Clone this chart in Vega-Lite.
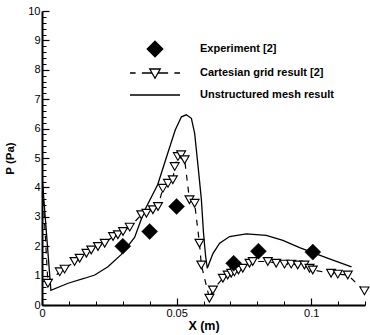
{
  "$schema": "https://vega.github.io/schema/vega-lite/v6.json",
  "width": 323,
  "height": 294,
  "autosize": "none",
  "padding": {"left": 42, "top": 11, "right": 5, "bottom": 30},
  "background": "white",
  "config": {
    "view": {"stroke": null},
    "font": "Liberation Sans",
    "axis": {
      "grid": false,
      "domainColor": "black",
      "tickColor": "black",
      "labelColor": "black",
      "titleColor": "black",
      "labelFont": "Liberation Sans",
      "titleFont": "Liberation Sans",
      "labelFontSize": 11,
      "titleFontSize": 11.5,
      "titleFontWeight": "bold"
    },
    "legend": {
      "orient": "none",
      "legendX": 99.5,
      "legendY": 24.5,
      "padding": 0,
      "title": null,
      "labelFont": "Liberation Sans",
      "labelFontSize": 11,
      "labelFontWeight": "bold",
      "labelColor": "black",
      "labelOffset": 31.5,
      "symbolSize": 625,
      "symbolStrokeColor": "black",
      "symbolStrokeWidth": 1.3,
      "rowPadding": -2.5,
      "labelLimit": 300
    }
  },
  "datasets": {
    "main": [
      {"series": "Unstructured mesh result", "x": 0, "p": 4.4},
      {"series": "Unstructured mesh result", "x": 0.0033, "p": 0.5},
      {"series": "Unstructured mesh result", "x": 0.0097, "p": 0.74},
      {"series": "Unstructured mesh result", "x": 0.0159, "p": 0.91},
      {"series": "Unstructured mesh result", "x": 0.0196, "p": 1.02},
      {"series": "Unstructured mesh result", "x": 0.0245, "p": 1.3},
      {"series": "Unstructured mesh result", "x": 0.0295, "p": 1.72},
      {"series": "Unstructured mesh result", "x": 0.0344, "p": 2.3},
      {"series": "Unstructured mesh result", "x": 0.038, "p": 3.2},
      {"series": "Unstructured mesh result", "x": 0.043, "p": 4.1},
      {"series": "Unstructured mesh result", "x": 0.0465, "p": 5.1},
      {"series": "Unstructured mesh result", "x": 0.0495, "p": 5.95},
      {"series": "Unstructured mesh result", "x": 0.0518, "p": 6.4},
      {"series": "Unstructured mesh result", "x": 0.0536, "p": 6.47},
      {"series": "Unstructured mesh result", "x": 0.0555, "p": 6.35},
      {"series": "Unstructured mesh result", "x": 0.0567, "p": 5.85},
      {"series": "Unstructured mesh result", "x": 0.058, "p": 4.7},
      {"series": "Unstructured mesh result", "x": 0.0592, "p": 3.6},
      {"series": "Unstructured mesh result", "x": 0.06, "p": 2.45},
      {"series": "Unstructured mesh result", "x": 0.0608, "p": 1.65},
      {"series": "Unstructured mesh result", "x": 0.0614, "p": 1.25},
      {"series": "Unstructured mesh result", "x": 0.0635, "p": 1.75},
      {"series": "Unstructured mesh result", "x": 0.066, "p": 2.1},
      {"series": "Unstructured mesh result", "x": 0.0697, "p": 2.33},
      {"series": "Unstructured mesh result", "x": 0.0759, "p": 2.42},
      {"series": "Unstructured mesh result", "x": 0.0833, "p": 2.37},
      {"series": "Unstructured mesh result", "x": 0.0895, "p": 2.2},
      {"series": "Unstructured mesh result", "x": 0.0957, "p": 1.95},
      {"series": "Unstructured mesh result", "x": 0.1006, "p": 1.78},
      {"series": "Unstructured mesh result", "x": 0.1068, "p": 1.57},
      {"series": "Unstructured mesh result", "x": 0.115, "p": 1.3},
      {"series": "Cartesian grid result [2]", "x": 0, "p": 4.4},
      {"series": "Cartesian grid result [2]", "x": 0.0022, "p": 0.74},
      {"series": "Cartesian grid result [2]", "x": 0.0066, "p": 1.13},
      {"series": "Cartesian grid result [2]", "x": 0.0084, "p": 1.22},
      {"series": "Cartesian grid result [2]", "x": 0.0121, "p": 1.48},
      {"series": "Cartesian grid result [2]", "x": 0.014, "p": 1.59},
      {"series": "Cartesian grid result [2]", "x": 0.0165, "p": 1.76},
      {"series": "Cartesian grid result [2]", "x": 0.0183, "p": 1.87},
      {"series": "Cartesian grid result [2]", "x": 0.0208, "p": 1.99},
      {"series": "Cartesian grid result [2]", "x": 0.0233, "p": 2.1},
      {"series": "Cartesian grid result [2]", "x": 0.0264, "p": 2.33},
      {"series": "Cartesian grid result [2]", "x": 0.0282, "p": 2.39},
      {"series": "Cartesian grid result [2]", "x": 0.0301, "p": 2.5},
      {"series": "Cartesian grid result [2]", "x": 0.0326, "p": 2.65},
      {"series": "Cartesian grid result [2]", "x": 0.0369, "p": 3.07},
      {"series": "Cartesian grid result [2]", "x": 0.0388, "p": 3.12},
      {"series": "Cartesian grid result [2]", "x": 0.0412, "p": 3.24},
      {"series": "Cartesian grid result [2]", "x": 0.0431, "p": 3.35},
      {"series": "Cartesian grid result [2]", "x": 0.0449, "p": 3.97},
      {"series": "Cartesian grid result [2]", "x": 0.0468, "p": 4.14},
      {"series": "Cartesian grid result [2]", "x": 0.0486, "p": 4.26},
      {"series": "Cartesian grid result [2]", "x": 0.0493, "p": 4.71},
      {"series": "Cartesian grid result [2]", "x": 0.0505, "p": 5.05},
      {"series": "Cartesian grid result [2]", "x": 0.0517, "p": 5.11},
      {"series": "Cartesian grid result [2]", "x": 0.053, "p": 4.94},
      {"series": "Cartesian grid result [2]", "x": 0.0548, "p": 3.58},
      {"series": "Cartesian grid result [2]", "x": 0.0567, "p": 3.46},
      {"series": "Cartesian grid result [2]", "x": 0.0585, "p": 2.1},
      {"series": "Cartesian grid result [2]", "x": 0.0592, "p": 1.36},
      {"series": "Cartesian grid result [2]", "x": 0.0622, "p": 0.23},
      {"series": "Cartesian grid result [2]", "x": 0.0635, "p": 0.51},
      {"series": "Cartesian grid result [2]", "x": 0.0672, "p": 0.91},
      {"series": "Cartesian grid result [2]", "x": 0.069, "p": 1.02},
      {"series": "Cartesian grid result [2]", "x": 0.0703, "p": 1.08},
      {"series": "Cartesian grid result [2]", "x": 0.0715, "p": 1.13},
      {"series": "Cartesian grid result [2]", "x": 0.073, "p": 1.19},
      {"series": "Cartesian grid result [2]", "x": 0.0746, "p": 1.25},
      {"series": "Cartesian grid result [2]", "x": 0.0771, "p": 1.42},
      {"series": "Cartesian grid result [2]", "x": 0.0783, "p": 1.48},
      {"series": "Cartesian grid result [2]", "x": 0.0839, "p": 1.48},
      {"series": "Cartesian grid result [2]", "x": 0.087, "p": 1.42},
      {"series": "Cartesian grid result [2]", "x": 0.0901, "p": 1.39},
      {"series": "Cartesian grid result [2]", "x": 0.0926, "p": 1.39},
      {"series": "Cartesian grid result [2]", "x": 0.095, "p": 1.36},
      {"series": "Cartesian grid result [2]", "x": 0.0975, "p": 1.36},
      {"series": "Cartesian grid result [2]", "x": 0.0994, "p": 1.25},
      {"series": "Cartesian grid result [2]", "x": 0.1006, "p": 1.19},
      {"series": "Cartesian grid result [2]", "x": 0.1074, "p": 1.08},
      {"series": "Cartesian grid result [2]", "x": 0.1099, "p": 1.05},
      {"series": "Cartesian grid result [2]", "x": 0.1136, "p": 1.02},
      {"series": "Cartesian grid result [2]", "x": 0.1198, "p": 0.48},
      {"series": "Experiment [2]", "x": 0.03, "p": 2.0},
      {"series": "Experiment [2]", "x": 0.04, "p": 2.5},
      {"series": "Experiment [2]", "x": 0.05, "p": 3.35},
      {"series": "Experiment [2]", "x": 0.0712, "p": 1.42},
      {"series": "Experiment [2]", "x": 0.0804, "p": 1.83},
      {"series": "Experiment [2]", "x": 0.1006, "p": 1.8}
    ]
  },
  "data": {"name": "main"},
  "resolve": {"axis": {"x": "independent", "y": "independent"}},
  "layer": [
    {
      "transform": [{"filter": "datum.series == 'Unstructured mesh result'"}],
      "mark": {"type": "line", "color": "black", "strokeWidth": 1.3, "clip": true},
      "encoding": {
        "x": {"field": "x", "type": "quantitative", "scale": {"domain": [0, 0.12], "nice": false, "zero": false},
          "axis": {"orient": "bottom", "values": [0, 0.05, 0.1], "format": "~g", "tickSize": -7, "tickWidth": 1.2, "labelPadding": 9, "domainWidth": 2, "title": "X (m)", "titlePadding": 1, "titleFontSize": 12.5, "labelFlush": false}},
        "y": {"field": "p", "type": "quantitative", "scale": {"domain": [0, 10], "nice": false, "zero": true},
          "axis": {"orient": "left", "values": [0,1,2,3,4,5,6,7,8,9,10], "format": "d", "tickSize": -7, "tickWidth": 1.2, "labelPadding": 9, "domainWidth": 2, "title": "P (Pa)", "titlePadding": 12}}
      }
    },
    {
      "transform": [{"filter": "datum.series == 'Cartesian grid result [2]'"}],
      "mark": {"type": "line", "color": "black", "strokeWidth": 1.2, "strokeDash": [6, 6], "clip": true},
      "encoding": {
        "x": {"field": "x", "type": "quantitative",
          "axis": {"orient": "bottom", "values": [0.01,0.02,0.03,0.04,0.06,0.07,0.08,0.09,0.11,0.12], "labels": false, "domain": false, "tickSize": -4, "tickWidth": 1, "title": null}},
        "y": {"field": "p", "type": "quantitative",
          "axis": {"orient": "left", "values": [0.2,0.4,0.6,0.8,1.2,1.4,1.6,1.8,2.2,2.4,2.6,2.8,3.2,3.4,3.6,3.8,4.2,4.4,4.6,4.8,5.2,5.4,5.6,5.8,6.2,6.4,6.6,6.8,7.2,7.4,7.6,7.8,8.2,8.4,8.6,8.8,9.2,9.4,9.6,9.8], "labels": false, "domain": false, "tickSize": -4, "tickWidth": 1, "title": null}}
      }
    },
    {
      "transform": [{"filter": "datum.series == 'Cartesian grid result [2]' && datum.x > 0"}],
      "mark": {"type": "point", "shape": "triangle-down", "size": 80, "filled": true, "fill": "white", "stroke": "black", "strokeWidth": 1.1, "opacity": 1},
      "encoding": {
        "x": {"field": "x", "type": "quantitative", "axis": null},
        "y": {"field": "p", "type": "quantitative", "axis": null}
      }
    },
    {
      "transform": [{"filter": "datum.series == 'Experiment [2]'"}],
      "mark": {"type": "point", "shape": "diamond", "size": 256, "filled": true, "fill": "black", "stroke": "black", "strokeWidth": 0.5, "opacity": 1},
      "encoding": {
        "x": {"field": "x", "type": "quantitative", "axis": null},
        "y": {"field": "p", "type": "quantitative", "axis": null}
      }
    },
    {
      "data": {"values": []},
      "mark": {"type": "point", "filled": true, "size": 625, "strokeWidth": 1.3, "opacity": 1},
      "encoding": {
        "shape": {"field": "series", "type": "nominal",
          "scale": {"domain": ["Experiment [2]", "Cartesian grid result [2]", "Unstructured mesh result"],
            "range": ["M0,-0.62L0.62,0L0,0.62L-0.62,0Z", "M-2,0H-1.55M-1.05,0H-0.24M0.24,0H1.05M1.55,0H2M-0.42,-0.32L0.42,-0.32L0,0.42Z", "M-2,0H2"]}},
        "fill": {"field": "series", "type": "nominal",
          "scale": {"domain": ["Experiment [2]", "Cartesian grid result [2]", "Unstructured mesh result"],
            "range": ["black", "white", "transparent"]}},
        "stroke": {"field": "series", "type": "nominal",
          "scale": {"domain": ["Experiment [2]", "Cartesian grid result [2]", "Unstructured mesh result"],
            "range": ["black", "black", "black"]}}
      }
    }
  ]
}
